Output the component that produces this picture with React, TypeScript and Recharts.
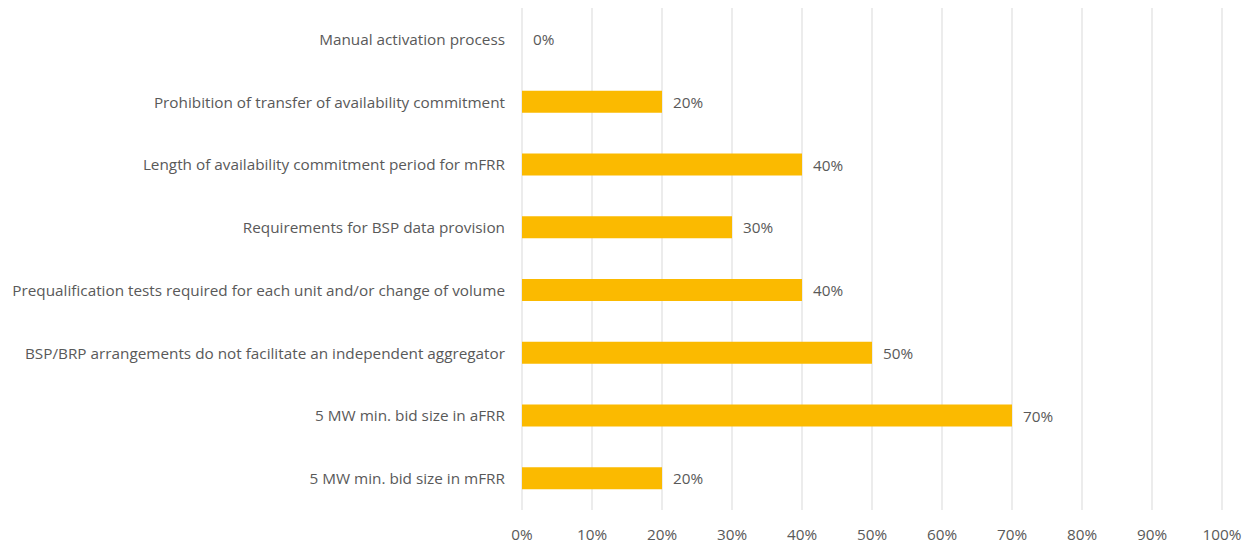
import { BarChart, Bar, XAxis, YAxis, CartesianGrid, LabelList, Cell } from "recharts"

const barriers = [
  "Manual activation process",
  "Prohibition of transfer of availability commitment",
  "Length of availability commitment period for mFRR",
  "Requirements for BSP data provision",
  "Prequalification tests required for each unit and/or change of volume",
  "BSP/BRP arrangements do not facilitate an independent aggregator",
  "5 MW min. bid size in aFRR",
  "5 MW min. bid size in mFRR",
]

const shares = [0, 20, 40, 30, 40, 50, 70, 20]

const pctTicks = [0, 10, 20, 30, 40, 50, 60, 70, 80, 90, 100]

const data = barriers.map((name, i) => ({ name, share: shares[i] }))

const FONT = "'Open Sans', 'Noto Sans', sans-serif"
const TEXT = "#595959"
const GOLD = "#fbba00"
const SIZE = 15.3

// zero bars get a 1px transparent stub so the "0%" label still shows
const ValueLabel = (props: any) => {
  const { x, y, width, height, value } = props
  const w = value === 0 ? 0 : Number(width)
  return (
    <text
      x={Number(x) + w + 11}
      y={Number(y) + Number(height) / 2}
      dominantBaseline="central"
      fontSize={SIZE}
      fontFamily={FONT}
      fill={TEXT}
    >
      {value}%
    </text>
  )
}

export default function App() {
  return (
    <div style={{ position: "absolute", left: 0, top: 0, background: "#fff" }}>
      <BarChart
        width={1254}
        height={544}
        data={data}
        layout="vertical"
        margin={{ top: 8, right: 32, left: 0, bottom: 0 }}
        barCategoryGap={0}
      >
        <CartesianGrid horizontal={false} stroke="#d9d9d9" />
        <XAxis
          type="number"
          domain={[0, 100]}
          ticks={pctTicks}
          tickFormatter={(v) => `${v}%`}
          axisLine={false}
          tickLine={false}
          tickSize={0}
          tickMargin={19}
          height={34}
          interval={0}
          tick={{ fontSize: SIZE, fill: TEXT, fontFamily: FONT }}
        />
        <YAxis
          type="category"
          dataKey="name"
          width={522}
          axisLine={false}
          tickLine={false}
          tickSize={0}
          tickMargin={17}
          interval={0}
          tick={{ fontSize: SIZE, fill: TEXT, fontFamily: FONT }}
        />
        <Bar dataKey="share" fill={GOLD} barSize={22} minPointSize={1} isAnimationActive={false}>
          {data.map((d, i) => (
            <Cell key={i} fill={d.share === 0 ? "transparent" : GOLD} />
          ))}
          <LabelList dataKey="share" content={ValueLabel} />
        </Bar>
      </BarChart>
    </div>
  )
}
